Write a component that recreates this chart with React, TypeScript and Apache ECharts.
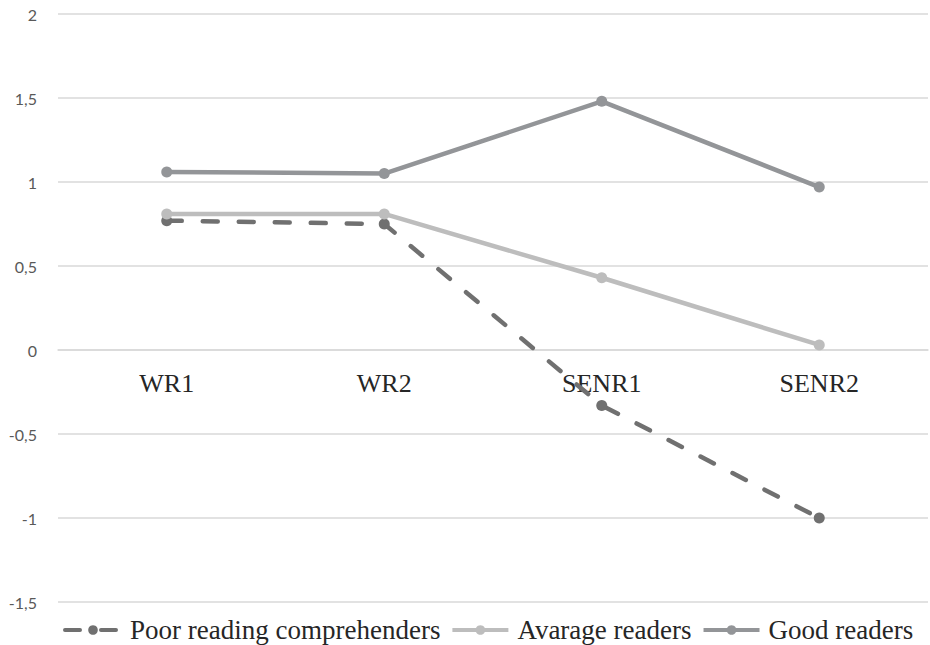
import React, { useEffect, useRef } from "react";
import * as echarts from "echarts";

const categories = ["WR1", "WR2", "SENR1", "SENR2"];
const poorValues = [0.77, 0.75, -0.33, -1.0];
const averageValues = [0.81, 0.81, 0.43, 0.03];
const goodValues = [1.06, 1.05, 1.48, 0.97];
const seriesNames = ["Poor reading comprehenders", "Avarage readers", "Good readers"];
const yMin = -1.5;
const yMax = 2;

export default function App() {
  const ref = useRef<HTMLDivElement>(null);
  useEffect(() => {
    document.body.style.margin = "0";
    const chart = echarts.init(ref.current!, null, { renderer: "svg" });
    const serif = "'Liberation Serif', 'Times New Roman', serif";
    const top = 14;
    const bottom = 43;
    const plotH = 645 - top - bottom;
    const zeroOffset = (plotH * (0 - yMin)) / (yMax - yMin);
    chart.setOption({
      animation: false,
      backgroundColor: "#ffffff",
      grid: { left: 58, right: 2, top, bottom, containLabel: false },
      legend: {
        left: 63,
        top: 616,
        padding: 0,
        itemWidth: 56,
        itemHeight: 12,
        itemGap: 10,
        lineStyle: { width: 4 },
        textStyle: { fontFamily: serif, fontSize: 27, color: "#262626", padding: [0, 0, 0, 4], lineHeight: 28 },
        data: seriesNames,
      },
      xAxis: {
        type: "category",
        data: categories,
        boundaryGap: true,
        offset: -zeroOffset,
        axisLine: { onZero: false, lineStyle: { color: "#d9d9d9", width: 1.5 } },
        axisTick: { show: false },
        axisLabel: { fontFamily: serif, fontSize: 26, color: "#262626", margin: 20 },
      },
      yAxis: {
        type: "value",
        min: yMin,
        max: yMax,
        interval: 0.5,
        axisLine: { show: false },
        axisTick: { show: false },
        splitLine: { lineStyle: { color: "#d9d9d9", width: 1.5 } },
        axisLabel: {
          fontFamily: "Lato, 'Open Sans', sans-serif",
          fontSize: 16,
          color: "#595959",
          margin: 21,
          formatter: (v: number) => String(v).replace(".", ","),
        },
      },
      series: [
        {
          name: seriesNames[0],
          type: "line",
          data: poorValues,
          symbol: "circle",
          symbolSize: 11,
          itemStyle: { color: "#707070" },
          lineStyle: { color: "#707070", width: 4.5, type: [15, 21], cap: "round" },
          z: 3,
        },
        {
          name: seriesNames[1],
          type: "line",
          data: averageValues,
          symbol: "circle",
          symbolSize: 11,
          itemStyle: { color: "#bdbdbd" },
          lineStyle: { color: "#bdbdbd", width: 4.5 },
          z: 4,
        },
        {
          name: seriesNames[2],
          type: "line",
          data: goodValues,
          symbol: "circle",
          symbolSize: 11,
          itemStyle: { color: "#939598" },
          lineStyle: { color: "#939598", width: 4.5 },
          z: 5,
        },
      ],
    });
    return () => chart.dispose();
  }, []);
  return <div ref={ref} style={{ width: 930, height: 645 }} />;
}
